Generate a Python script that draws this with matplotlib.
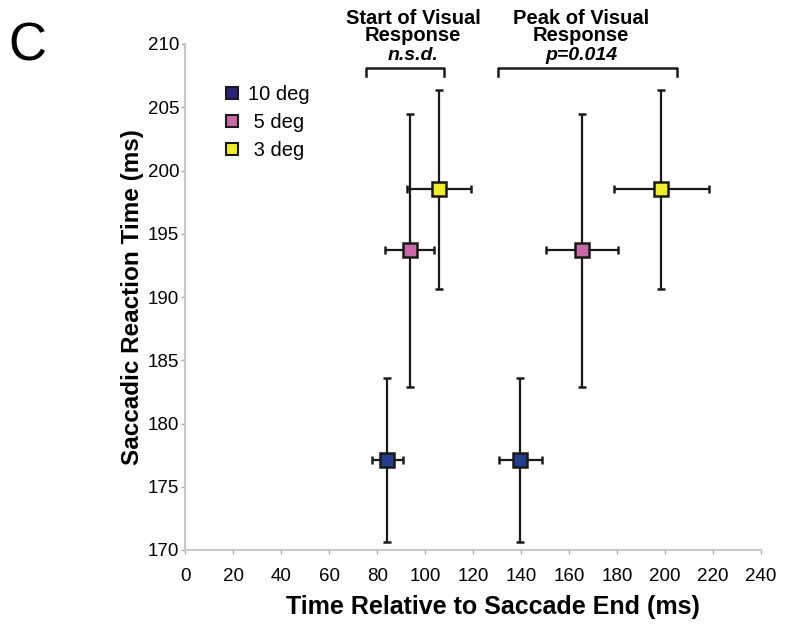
import matplotlib.pyplot as plt
from matplotlib.lines import Line2D

plt.rcParams['font.family'] = ['Liberation Sans', 'DejaVu Sans']

# eccentricity conditions
labels = ['10 deg', ' 5 deg', ' 3 deg']
colors = ['#233e8c', '#c86aa8', '#f0ec2e']
legend_colors = ['#2b2378', '#c86aa8', '#f0ec2e']

# saccadic reaction time (ms) and its error
srt = [177.1, 193.7, 198.5]
srt_err = [6.5, 10.8, 7.9]

# start of visual response (ms re saccade end)
start_t = [84.2, 93.5, 105.7]
start_err = [6.4, 10.3, 13.3]

# peak of visual response (ms re saccade end)
peak_t = [139.7, 165.3, 198.5]
peak_err = [8.8, 15.1, 19.8]

xticks = list(range(0, 241, 20))
yticks = list(range(170, 211, 5))

fig = plt.figure(figsize=(7.93, 6.25), dpi=100)
ax = fig.add_axes([0.2337, 0.12, 0.726, 0.8096])

for i in range(3):
    for xs, xe in [(start_t, start_err), (peak_t, peak_err)]:
        ax.errorbar(xs[i], srt[i], xerr=xe[i], yerr=srt_err[i], fmt='s',
                    color='#1a1a1a', ecolor='#1a1a1a', elinewidth=1.6,
                    capsize=3, capthick=1.6, markersize=10,
                    markerfacecolor=colors[i], markeredgecolor='#1a1a1a',
                    markeredgewidth=1.8, zorder=3)

ax.set_xlim(0, 240)
ax.set_ylim(170, 210)
ax.set_xticks(xticks)
ax.set_yticks(yticks)
ax.tick_params(labelsize=13.5, length=3, width=1, color='#aaaaaa')
ax.tick_params(axis='x', pad=10)
ax.tick_params(axis='y', pad=1.5)
for s in ['top', 'right']:
    ax.spines[s].set_visible(False)
for s in ['left', 'bottom']:
    ax.spines[s].set_color('#c8c8c8')
    ax.spines[s].set_linewidth(1.5)

ax.set_xlabel('Time Relative to Saccade End (ms)', fontsize=18,
              fontweight='bold')
ax.set_ylabel('Saccadic Reaction Time (ms)', fontsize=17.5,
              fontweight='bold')
ax.xaxis.set_label_coords(0.534, -0.089)
ax.yaxis.set_label_coords(-0.071, 0.5)

# significance brackets
def bracket(x0, x1, y, h):
    ax.plot([x0, x0, x1, x1], [y - h, y, y, y - h], color='#1a1a1a',
            lw=1.8, clip_on=False)

bracket(75.2, 107.9, 208.1, 0.6)
bracket(130.2, 205.0, 208.1, 0.6)

ax.text(95, 211.35, 'Start of Visual\nResponse', ha='center', va='center',
        fontsize=14.5, fontweight='bold', linespacing=0.92)
ax.text(95, 209.1, 'n.s.d.', ha='center', va='center', fontsize=14,
        fontweight='bold', style='italic')
ax.text(165, 211.35, 'Peak of Visual\nResponse', ha='center', va='center',
        fontsize=14.5, fontweight='bold', linespacing=0.92)
ax.text(165, 209.1, 'p=0.014', ha='center', va='center', fontsize=14,
        fontweight='bold', style='italic')

fig.text(0.035, 0.926, 'C', fontsize=38, ha='center', va='center')

handles = [Line2D([], [], marker='s', ls='none', markersize=9,
                  markerfacecolor=c, markeredgecolor='#1a1a1a',
                  markeredgewidth=1.5) for c in legend_colors]
ax.legend(handles, labels, loc='upper left', bbox_to_anchor=(0.035, 0.955),
          frameon=False, fontsize=14.5, handlelength=0.8, handletextpad=0.4,
          labelspacing=0.45)

fig.savefig('out.png', dpi=100)
